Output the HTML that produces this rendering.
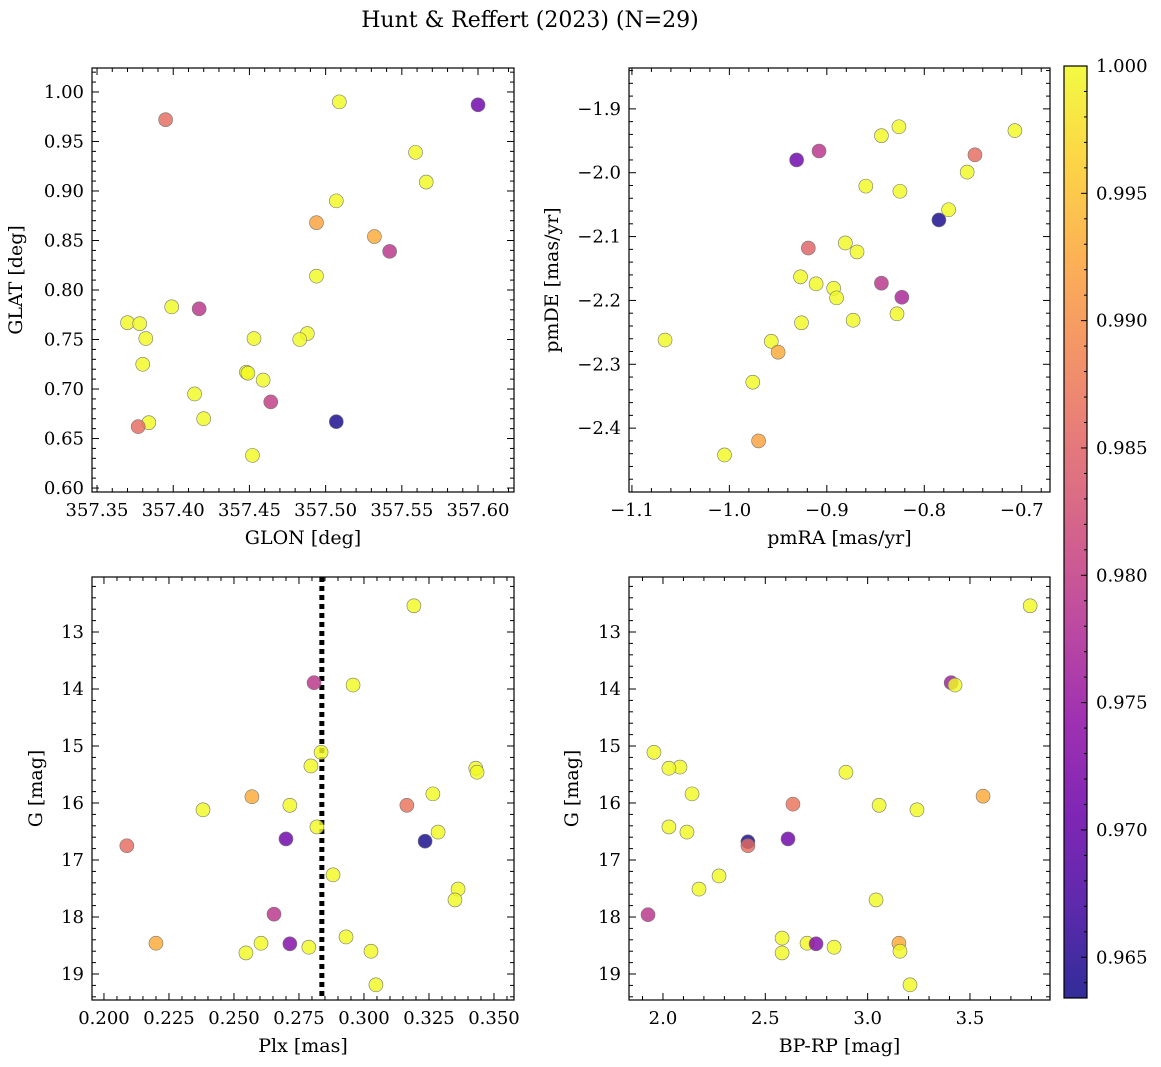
<!DOCTYPE html>
<html><head><meta charset="utf-8"><style>
body{margin:0;background:#fff;}
svg{display:block;font-family:"DejaVu Serif","Liberation Serif",serif;}
</style></head><body>
<svg id="fig" width="1161" height="1067" viewBox="0 0 1161 1067">
<text x="530" y="27" text-anchor="middle" font-size="22">Hunt &amp; Reffert (2023) (N=29)</text>
</svg>
<script>
// ---- Data ----
const glon=[357.395,357.600,357.509,357.559,357.566,357.507,357.494,357.532,357.542,357.494,357.399,357.417,357.370,357.378,357.382,357.453,357.488,357.483,357.380,357.448,357.449,357.459,357.414,357.464,357.420,357.507,357.384,357.377,357.452];
const glat=[0.972,0.987,0.990,0.939,0.909,0.890,0.868,0.854,0.839,0.814,0.783,0.781,0.767,0.766,0.751,0.751,0.756,0.750,0.725,0.717,0.716,0.709,0.695,0.687,0.670,0.667,0.666,0.662,0.633];
const probA=[0.986,0.971,1,1,1,1,0.992,0.993,0.979,1,1,0.979,1,1,1,1,1,1,1,1,1,1,1,0.980,1,0.964,1,0.986,1];
const pmra=[-0.707,-0.844,-0.826,-0.748,-0.908,-0.931,-0.756,-0.860,-0.825,-0.775,-0.785,-0.919,-0.881,-0.869,-0.927,-0.911,-0.844,-0.893,-0.890,-0.823,-0.828,-0.873,-0.926,-1.066,-0.957,-0.950,-0.976,-0.970,-1.005];
const pmde=[-1.934,-1.942,-1.928,-1.972,-1.966,-1.980,-1.999,-2.021,-2.029,-2.058,-2.074,-2.118,-2.110,-2.124,-2.163,-2.174,-2.173,-2.181,-2.196,-2.195,-2.221,-2.231,-2.235,-2.262,-2.264,-2.281,-2.328,-2.420,-2.442];
const probB=[1,1,1,0.986,0.979,0.971,1,1,1,1,0.964,0.985,1,1,1,1,0.979,1,1,0.977,1,1,1,1,1,0.993,1,0.992,1];
const plx=[0.3192,0.2808,0.2958,0.2835,0.2796,0.3430,0.3435,0.2569,0.3265,0.2381,0.2715,0.3165,0.2819,0.3285,0.2700,0.3235,0.2088,0.2881,0.3362,0.3350,0.2654,0.2200,0.2931,0.2604,0.2715,0.2788,0.2546,0.3027,0.3046];
const gmagC=[12.54,13.89,13.93,15.11,15.35,15.39,15.46,15.89,15.84,16.12,16.04,16.04,16.42,16.51,16.63,16.67,16.75,17.26,17.51,17.70,17.95,18.46,18.35,18.46,18.47,18.53,18.63,18.60,19.19];
const probC=[1,0.979,1,1,1,1,1,0.993,1,1,1,0.987,1,1,0.971,0.964,0.986,1,1,1,0.979,0.993,1,1,0.973,1,1,1,1];
const bprp=[3.794,3.408,3.427,1.956,2.083,2.029,2.894,3.564,2.142,2.635,3.056,3.241,2.029,2.117,2.415,2.611,2.415,2.274,2.176,3.041,1.927,2.582,2.704,2.748,3.153,2.836,2.582,3.158,3.207];
const gmagD=[12.54,13.89,13.93,15.11,15.37,15.39,15.46,15.88,15.84,16.02,16.04,16.12,16.42,16.51,16.68,16.63,16.75,17.28,17.51,17.70,17.96,18.37,18.46,18.47,18.46,18.53,18.63,18.60,19.19];
const probD=[1,0.976,1,1,1,1,1,0.993,1,0.987,1,1,1,1,0.964,0.971,0.986,1,1,1,0.979,1,1,0.973,0.993,1,1,1,1];
const plxCut=[0.2838];
const ticksA_x=[357.35,357.40,357.45,357.50,357.55,357.60];
const ticksA_y=[0.60,0.65,0.70,0.75,0.80,0.85,0.90,0.95,1.00];
const ticksB_x=[-1.1,-1.0,-0.9,-0.8,-0.7];
const ticksB_y=[-2.4,-2.3,-2.2,-2.1,-2.0,-1.9];
const ticksC_x=[0.200,0.225,0.250,0.275,0.300,0.325,0.350];
const ticksG=[13,14,15,16,17,18,19];
const ticksD_x=[2.0,2.5,3.0,3.5];
const cbTicks=[0.965,0.970,0.975,0.980,0.985,0.990,0.995,1.000];
const cmin=0.9634,cmax=1.0;

const NS="http://www.w3.org/2000/svg";
const svg=document.getElementById('fig');
function mk(tag,attrs,parent){const e=document.createElementNS(NS,tag);for(const k in attrs)e.setAttribute(k,attrs[k]);(parent||svg).appendChild(e);return e;}
const stops=["#0d0887","#41049d","#6a00a8","#8f0da4","#b12a90","#cc4778","#e16462","#f2844b","#fca636","#fcce25","#f0f921"];
function hx(h){return [parseInt(h.substr(1,2),16),parseInt(h.substr(3,2),16),parseInt(h.substr(5,2),16)];}
function plasma(t){t=Math.max(0,Math.min(1,t));const f=t*10,i=Math.min(9,Math.floor(f)),r=f-i;const a=hx(stops[i]),b=hx(stops[i+1]);return `rgb(${a.map((v,k)=>Math.round(v+(b[k]-v)*r)).join(',')})`;}

function panel(o){
  const g=mk('g',{});
  
  
  const X=v=>o.L+(v-o.x0)/(o.x1-o.x0)*(o.R-o.L);
  const Yf=o.inv?(v=>o.T+(v-o.y1)/(o.y0-o.y1)*(o.B-o.T)):(v=>o.T+(o.y1-v)/(o.y1-o.y0)*(o.B-o.T));
  const tg=mk('g',{stroke:'#000','stroke-width':1},g);
  
  
  const xlo=Math.min(o.x0,o.x1),xhi=Math.max(o.x0,o.x1);
  for(let k=Math.ceil(xlo/o.xm-1e-6);k*o.xm<=xhi+1e-9;k++){const x=X(k*o.xm);const maj=Math.abs(k*o.xm/o.xM-Math.round(k*o.xm/o.xM))<1e-6;const l=maj?7:4;mk('line',{x1:x,x2:x,y1:o.B,y2:o.B-l},tg);mk('line',{x1:x,x2:x,y1:o.T,y2:o.T+l},tg);}
  const ylo=Math.min(o.y0,o.y1),yhi=Math.max(o.y0,o.y1);
  for(let k=Math.ceil(ylo/o.ym-1e-6);k*o.ym<=yhi+1e-9;k++){const y=Yf(k*o.ym);const maj=Math.abs(k*o.ym/o.yM-Math.round(k*o.ym/o.yM))<1e-6;const l=maj?7:4;mk('line',{x1:o.L,x2:o.L+l,y1:y,y2:y},tg);mk('line',{x1:o.R,x2:o.R-l,y1:y,y2:y},tg);}
  o.xt.forEach(v=>{const t=mk('text',{x:X(v),y:o.B+24,'text-anchor':'middle','font-size':18},g);t.textContent=(v<0?'\u2212'+(-v).toFixed(o.xd):v.toFixed(o.xd));});
  o.yt.forEach(v=>{const t=mk('text',{x:o.L-8,y:Yf(v)+6,'text-anchor':'end','font-size':18},g);t.textContent=(v<0?'\u2212'+(-v).toFixed(o.yd):v.toFixed(o.yd));});
  if(o.vline){o.vline.forEach(v=>{const l=mk('line',{x1:X(v),x2:X(v),y1:o.T,y2:o.B,stroke:'#000','stroke-width':5,'stroke-dasharray':'5,4'},g);});}
  const pg=mk('g',{},g);
  
  
  o.xs.forEach((v,i)=>{const c=mk('circle',{cx:X(v),cy:Yf(o.ys[i]),r:7,fill:plasma((o.c[i]-cmin)/(cmax-cmin)),'fill-opacity':0.82,stroke:'#777','stroke-width':0.6},pg);
    
    });
  const fr=mk('rect',{x:o.L,y:o.T,width:o.R-o.L,height:o.B-o.T,fill:'none',stroke:'#000','stroke-width':1.2},g);
  
  
  const xl=mk('text',{x:(o.L+o.R)/2,y:o.B+52,'text-anchor':'middle','font-size':19},g);xl.textContent=o.xlab;
  
  const yl=mk('text',{x:o.ylx,y:(o.T+o.B)/2,'text-anchor':'middle','font-size':19,transform:`rotate(-90 ${o.ylx} ${(o.T+o.B)/2})`},g);yl.textContent=o.ylab;
  
}
panel({name:'glon-glat-panel',L:92,R:514,T:68,B:492,x0:357.3467,x1:357.6236,y0:0.596,y1:1.0242,xm:0.01,xM:0.05,ym:0.01,yM:0.05,xt:ticksA_x,yt:ticksA_y,xd:2,yd:2,xs:glon,ys:glat,c:probA,xlab:'GLON [deg]',ylab:'GLAT [deg]',ylx:22});
panel({name:'pm-panel',L:629,R:1050,T:68,B:492,x0:-1.103,x1:-0.671,y0:-2.5,y1:-1.836,xm:0.02,xM:0.1,ym:0.02,yM:0.1,xt:ticksB_x,yt:ticksB_y,xd:1,yd:1,xs:pmra,ys:pmde,c:probB,xlab:'pmRA [mas/yr]',ylab:'pmDE [mas/yr]',ylx:558});
panel({name:'plx-g-panel',L:92,R:514,T:577,B:1000,x0:0.1954,x1:0.3577,y0:19.456,y1:12.035,inv:true,xm:0.005,xM:0.025,ym:0.2,yM:1,xt:ticksC_x,yt:ticksG,xd:3,yd:0,xs:plx,ys:gmagC,c:probC,xlab:'Plx [mas]',ylab:'G [mag]',ylx:42,vline:plxCut});
panel({name:'cmd-panel',L:629,R:1050,T:577,B:1000,x0:1.834,x1:3.891,y0:19.456,y1:12.035,inv:true,xm:0.1,xM:0.5,ym:0.2,yM:1,xt:ticksD_x,yt:ticksG,xd:1,yd:0,xs:bprp,ys:gmagD,c:probD,xlab:'BP-RP [mag]',ylab:'G [mag]',ylx:578});
const cb=mk('g',{});


const defs=mk('defs',{},cb);const lg=mk('linearGradient',{id:'cbg',x1:0,y1:1,x2:0,y2:0},defs);
for(let i=0;i<=20;i++){mk('stop',{offset:i/20,'stop-color':plasma(i/20),'stop-opacity':0.85},lg);}
const CT=66,CB=998,CL=1064,CR=1087;
mk('rect',{x:CL,y:CT,width:CR-CL,height:CB-CT,fill:'url(#cbg)',stroke:'#000','stroke-width':1.2},cb);
const CY=v=>CB-(v-cmin)/(cmax-cmin)*(CB-CT);
for(let v=0.964;v<=1.00001;v+=0.001){const y=CY(v);const maj=Math.abs(v*200-Math.round(v*200))<1e-4;mk('line',{x1:CR,x2:CR-(maj?6:3),y1:y,y2:y,stroke:'#000'},cb);}
cbTicks.forEach(v=>{const t=mk('text',{x:CR+9,y:CY(v)+6,'font-size':18},cb);t.textContent=v.toFixed(3);
  });
</script>
</body></html>
